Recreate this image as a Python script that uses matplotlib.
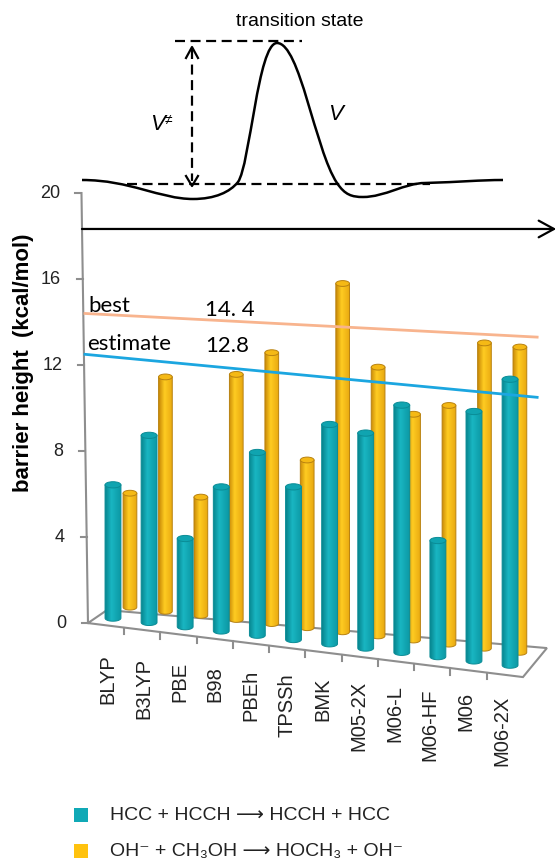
import numpy as np
import matplotlib

matplotlib.use("Agg")
import matplotlib.pyplot as plt
from matplotlib.patches import Ellipse, Polygon, PathPatch, Rectangle
from matplotlib.path import Path

plt.rcParams["font.family"] = ["Liberation Sans", "DejaVu Sans"]

# data (kcal/mol)
methods = ["BLYP", "B3LYP", "PBE", "B98", "PBEh", "TPSSh", "BMK",
           "M05-2X", "M06-L", "M06-HF", "M06", "M06-2X"]
hcc_barrier = [6.2, 8.7, 4.1, 6.7, 8.5, 7.1, 10.2, 10.0, 11.5, 5.4, 11.6, 13.3]
oh_barrier = [5.3, 10.9, 5.5, 11.4, 12.6, 7.8, 16.2, 12.5, 10.5, 11.1, 14.2, 14.2]
y_ticks = [0, 4, 8, 12, 16, 20]
best_text = ["14. 4", "12.8"]
best_start = [14.4, 12.5]   # drawn lines, value at the axis
best_end = [13.3, 10.5]     # value at the right end
legend_labels = ["HCC + HCCH \u27f6 HCCH + HCC",
                 "OH\u207b + CH\u2083OH \u27f6 HOCH\u2083 + OH\u207b"]

TEAL = "#10A9B6"
GOLD = "#FFC20E"

# perspective of the fake 3D floor (category units / kcal units)
rows = {
    "teal": dict(x0=0.0, dx=1.0, y0=0.23, drop=0.199, w=0.44, h=0.29,
                 cols=["#07858F", "#19B6C2", "#0C98A4"], edge="#0A8C96", top="#10A4B0"),
    "gold": dict(x0=0.47, dx=0.982, y0=0.74, drop=0.191, w=0.38, h=0.27,
                 cols=["#C98A08", "#FFCC22", "#E8A810"], edge="#B98210", top="#F5B915"),
}

fig = plt.figure(figsize=(5.57, 8.6), dpi=100)
ax = fig.add_axes([0, 0, 1, 1])
ax.set_xlim(-3.13, 12.30)
ax.set_ylim(-11.02, 28.98)
ax.axis("off")


def cylinder(cx, base, value, r, z):
    w, h = r["w"], r["h"]
    top = base + value
    th = np.linspace(0, -np.pi, 30)
    xs = np.concatenate([[cx - w / 2, cx - w / 2, cx + w / 2], cx + w / 2 * np.cos(th)])
    ys = np.concatenate([[base, top, top], base + h / 2 * np.sin(th)])
    body = Polygon(np.column_stack([xs, ys]), closed=True, facecolor="none",
                   edgecolor=r["edge"], lw=0.7, zorder=z + 0.2)
    ax.add_patch(body)
    rgb = np.array([matplotlib.colors.to_rgb(c) for c in r["cols"]])
    t = np.linspace(0, 1, 40)
    grad = np.stack([np.interp(t, [0, 0.4, 1], rgb[:, k]) for k in range(3)], axis=-1)[None, :, :]
    img = ax.imshow(grad, extent=[cx - w / 2, cx + w / 2, base - h / 2, top],
                    aspect="auto", zorder=z, interpolation="bilinear")
    img.set_clip_path(body)
    ax.add_patch(Ellipse((cx, top), w, h, facecolor=r["top"], edgecolor=r["edge"],
                         lw=0.7, zorder=z + 0.3))


# floor
fl_front_l = (-0.693, 0.0)
fl_front_r = (11.357, -2.512)
fl_back_r = (12.02, -1.163)
fl_back_l = (-0.166, 0.605)
floor = np.array([fl_front_l, fl_front_r, fl_back_r, fl_back_l])
ax.add_patch(Polygon(floor, closed=True, facecolor="none", edgecolor="#8E8E8E", lw=1.5, zorder=1))
n = len(methods)
for k in range(1, n):
    fx = fl_front_l[0] + (fl_front_r[0] - fl_front_l[0]) * k / n
    fy = fl_front_l[1] + (fl_front_r[1] - fl_front_l[1]) * k / n
    ax.plot([fx, fx], [fy, fy - 0.3], color="#8E8E8E", lw=1.5, zorder=1)

# y axis (slightly leaning)
def axis_x(v):
    return -0.693 - 0.009 * v

ax.plot([axis_x(0), axis_x(20)], [0, 20], color="#8E8E8E", lw=1.5, zorder=1)
for v in y_ticks:
    ax.plot([axis_x(v) - 0.17, axis_x(v)], [v, v], color="#8E8E8E", lw=1.5, zorder=1)
    ax.text(axis_x(v) - 0.6, v, str(v), ha="right", va="center", fontsize=13, color="#222222")

ax.text(-2.47, 12.1, "barrier height  (kcal/mol)", rotation=90, ha="center", va="center",
        fontsize=16, fontweight="bold")

# bars: back row first, front row on top
for i, val in enumerate(oh_barrier):
    r = rows["gold"]
    cylinder(r["x0"] + r["dx"] * i, r["y0"] - r["drop"] * i, val, r, 2)
for i, val in enumerate(hcc_barrier):
    r = rows["teal"]
    cylinder(r["x0"] + r["dx"] * i, r["y0"] - r["drop"] * i, val, r, 3)

# category labels
for k, name in enumerate(methods):
    ax.text(-0.14 + 0.992 * k, -1.45 - 0.177 * k, name, rotation=90, ha="center", va="top",
            fontsize=14.5, color="#222222")

# best estimate lines
line_x = [-0.776, 11.75]
for s, e, c in zip(best_start, best_end, ["#F8B48E", "#1BA6E0"]):
    ax.plot(line_x, [s, e], color=c, lw=2, zorder=6)
lato = ["Lato", "DejaVu Sans"]
ax.text(-0.69, 14.75, "best", fontsize=16, family=lato, va="center", zorder=7)
ax.text(2.55, 14.55, best_text[0], fontsize=16, family=lato, va="center", zorder=7)
ax.text(-0.72, 13.0, "estimate", fontsize=16, family=lato, va="center", zorder=7)
ax.text(2.55, 12.9, best_text[1], fontsize=16, family=lato, va="center", zorder=7)

# reaction coordinate arrow
ax.annotate("", xy=(12.28, 18.33), xytext=(-0.86, 18.33),
            arrowprops=dict(arrowstyle="->,head_length=1.1,head_width=0.6", lw=1.6,
                            color="black", mutation_scale=10, shrinkA=0, shrinkB=0))

# transition-state sketch, drawn in pixel space
sk = fig.add_axes([0, 0, 1, 1])
sk.set_xlim(0, 557)
sk.set_ylim(860, 0)
sk.axis("off")

verts = [(82, 180),
         (130, 180), (160, 199), (193, 199),
         (215, 199), (230, 192), (238, 182),
         (250, 165), (258, 43), (277, 43),
         (300, 43), (315, 150), (337, 183),
         (345, 195), (352, 197), (363, 197),
         (385, 197), (405, 183), (425, 183),
         (460, 182), (480, 180), (503, 180)]
codes = [Path.MOVETO] + [Path.CURVE4] * (len(verts) - 1)
sk.add_patch(PathPatch(Path(verts, codes), facecolor="none", edgecolor="black", lw=1.8))

dash = dict(color="black", lw=1.6, dashes=(4.5, 2.5))
sk.plot([127, 430], [184, 184], **dash)
sk.plot([175, 302], [41, 41], **dash)
sk.plot([192, 192], [49, 181], **dash)
sk.plot([186, 192, 198], [58, 47, 58], color="black", lw=1.6)
sk.plot([186, 192, 198], [176, 186, 176], color="black", lw=1.6)

sk.text(300, 21, "transition state", ha="center", va="center", fontsize=14)
sk.text(150, 125, "V", ha="left", va="center", fontsize=16, style="italic")
sk.text(165, 119, "\u2260", ha="left", va="center", fontsize=10)
sk.text(328, 115, "V", ha="left", va="center", fontsize=16, style="italic")

# legend
for yy, col, lab in zip([815, 851], [TEAL, GOLD], legend_labels):
    sk.add_patch(Rectangle((74, yy - 7), 14, 14, facecolor=col, edgecolor="none"))
    sk.text(110, yy, lab, ha="left", va="center", fontsize=14, color="#222222")

fig.savefig("out.png", dpi=100)
